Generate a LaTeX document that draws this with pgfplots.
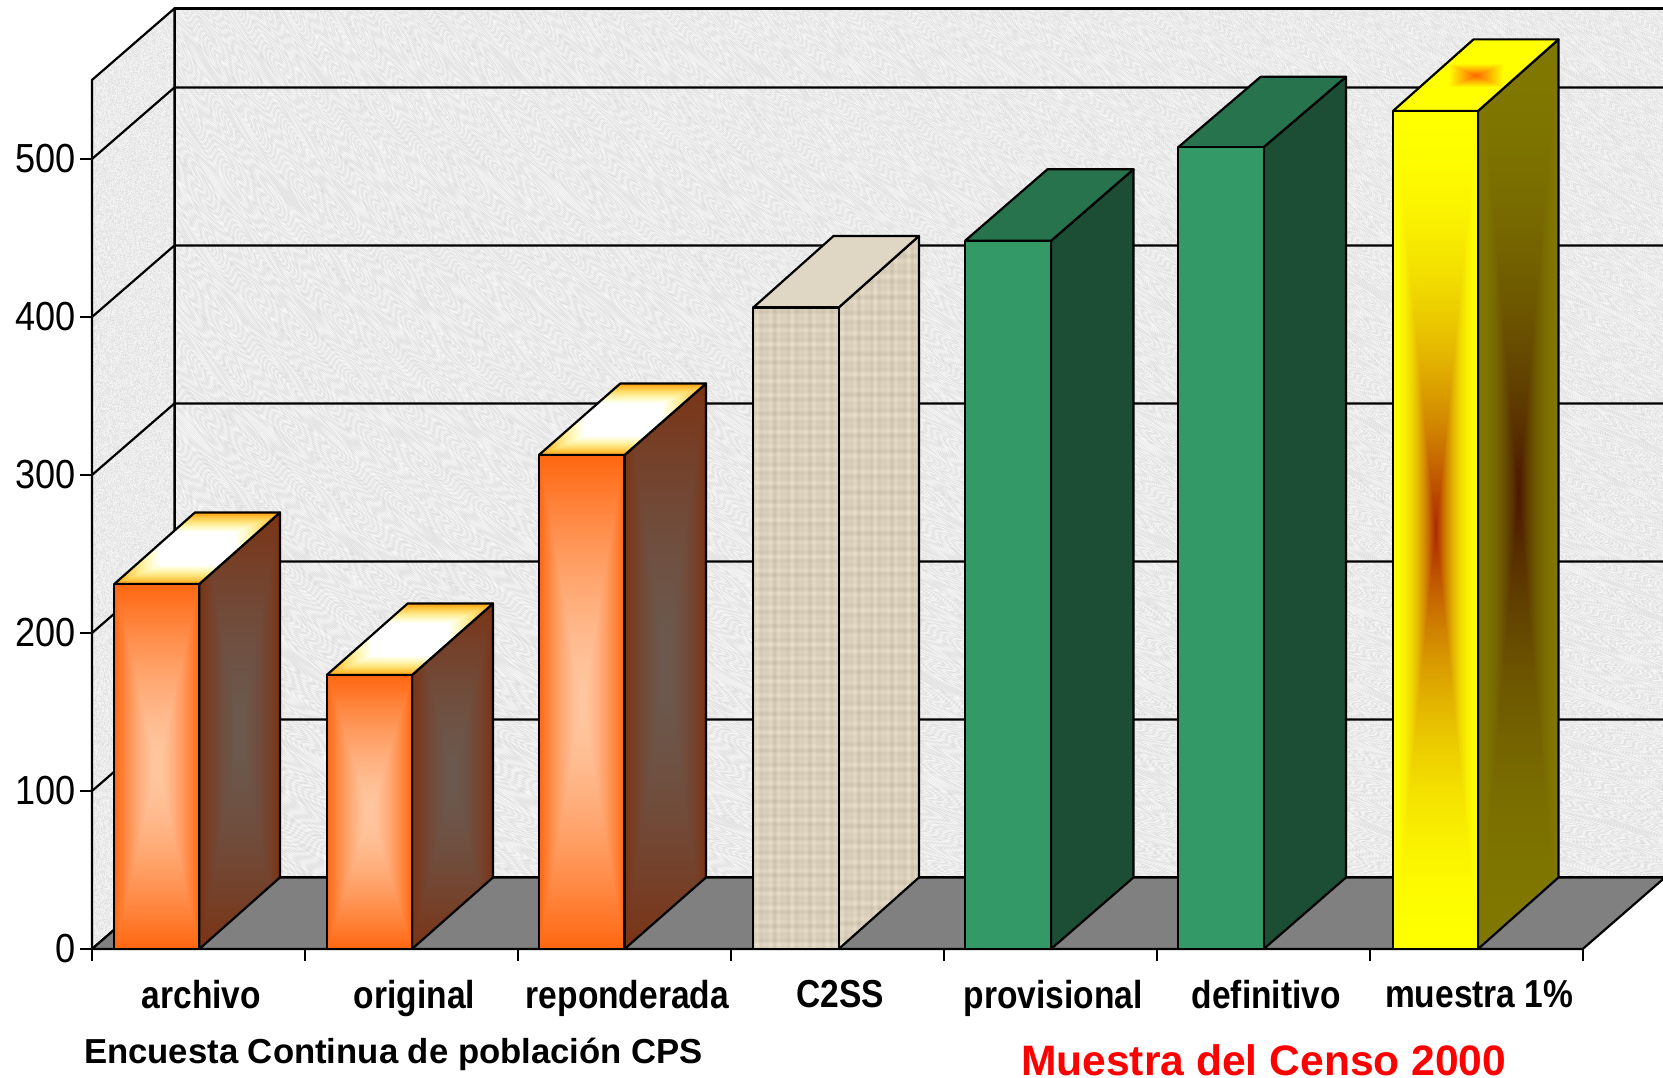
\documentclass[border=0pt]{standalone}
\usepackage{fontspec}
\setmainfont{Liberation Sans}
\newfontfamily\tickf[FakeStretch=0.89]{Liberation Sans}
\newfontfamily\catf[FakeStretch=0.86,Ligatures=NoCommon]{Liberation Sans}
\usepackage{pgfplots}
\pgfplotsset{compat=1.18}
\definecolor{floorgray}{HTML}{808080}
\definecolor{gfront}{HTML}{339966}
\definecolor{gside}{HTML}{1C4E36}
\definecolor{gtop}{HTML}{26734D}
\definecolor{woodtop}{HTML}{DFD6C4}
\pgfdeclarefunctionalshading{stone}{\pgfpointorigin}{\pgfpoint{100bp}{100bp}}{}{
 2 copy mul 3 mul 1 index 37 mul add sin 700 mul 2 index 23 mul sin 400 mul add 2 index 766 mul add sin 3 1 roll
 2 copy mul 5 mul 2 index 29 mul add sin 600 mul 1 index 53 mul sin 300 mul add exch 447 mul add exch pop sin
 mul 0.045 mul 0.92 add dup dup }
\pgfdeclarefunctionalshading{wood}{\pgfpointorigin}{\pgfpoint{100bp}{100bp}}{}{
 dup 500 mul sin exch 131 mul sin mul exch dup 70 mul sin exch 17 mul sin mul add
 0.035 mul dup 0.85 add exch dup 0.81 add exch 0.73 add }
\pgfdeclarefunctionalshading{orfront}{\pgfpointorigin}{\pgfpoint{100bp}{100bp}}{}{
 50 sub abs 25 div exch 50 sub abs 25 div 2 copy lt {exch} if pop
 dup sqrt mul dup -0.38 mul 0.78 add exch -0.57 mul 0.63 add 1 3 1 roll }
\pgfdeclarefunctionalshading{orside}{\pgfpointorigin}{\pgfpoint{100bp}{100bp}}{}{
 50 sub abs 25 div exch 50 sub abs 25 div 2 copy lt {exch} if pop
 dup sqrt mul dup 0.06 mul 0.42 add exch dup -0.15 mul 0.35 add exch -0.23 mul 0.31 add }
\pgfdeclarefunctionalshading{ortop}{\pgfpointorigin}{\pgfpoint{100bp}{100bp}}{}{
 50 sub abs 25 div exch 50 sub abs 25 div 2 copy lt {exch} if pop
 0.45 sub dup 0 lt {pop 0} if 1.818 mul
 dup dup mul -0.38 mul 1 add exch -0.95 mul 1 add 1 3 1 roll }
\pgfdeclarefunctionalshading{yfront}{\pgfpointorigin}{\pgfpoint{100bp}{100bp}}{}{
 50 sub abs 25 div exch 50 sub abs 25 div 2 copy lt {exch} if pop
 1 exch sub dup mul dup -0.32 mul 1 add exch -0.85 mul 1 add 0 }
\pgfdeclarefunctionalshading{yside}{\pgfpointorigin}{\pgfpoint{100bp}{100bp}}{}{
 50 sub abs 25 div exch 50 sub abs 25 div 2 copy lt {exch} if pop
 1 exch sub dup mul dup -0.21 mul 0.5 add exch -0.38 mul 0.47 add 0 }
\pgfdeclarefunctionalshading{ytop}{\pgfpointorigin}{\pgfpoint{100bp}{100bp}}{}{
 50 sub abs 25 div exch 50 sub abs 25 div 2 copy lt {exch} if pop
 3.03 mul dup 1 gt {pop 1} if 0.6 mul 0.4 add 1 exch 0 }
\begin{document}
\begin{tikzpicture}[line join=round]
\useasboundingbox (0,0) rectangle (831.5pt,538.5pt);
\begin{axis}[at={(0,0)},anchor=south west,scale only axis,width=831.5pt,height=538.5pt,
  xmin=0,xmax=1663,ymin=-81.01,ymax=600.63,axis lines=none,no markers,
  cycle list={{black,solid}},
  every axis plot/.append style={line width=1.1pt,draw=black,mark=none,solid}]
% walls and floor
\addplot[shade,shading=stone] coordinates {(174.5,45.3)(1665,45.3)(1665,595.3)(174.5,595.3)(174.5,45.3)};
\addplot[shade,shading=stone] coordinates {(92,0)(174.5,45.3)(174.5,595.3)(92,550)(92,0)};
\addplot[fill=floorgray] coordinates {(92,0)(174.5,45.3)(1665,45.3)(1582.7,0)(92,0)};
% gridlines
\addplot coordinates {(92,100)(174.5,145.3)(1665,145.3)};
\addplot coordinates {(92,200)(174.5,245.3)(1665,245.3)};
\addplot coordinates {(92,300)(174.5,345.3)(1665,345.3)};
\addplot coordinates {(92,400)(174.5,445.3)(1665,445.3)};
\addplot coordinates {(92,500)(174.5,545.3)(1665,545.3)};
% archivo 231
\addplot[shade,shading=orside] coordinates {(199.3,0)(280,45.3)(280,276.3)(199.3,231)(199.3,0)};
\addplot[shade,shading=ortop] coordinates {(114.3,231)(199.3,231)(280,276.3)(195,276.3)(114.3,231)};
\addplot[shade,shading=orfront] coordinates {(114.3,0)(199.3,0)(199.3,231)(114.3,231)(114.3,0)};
% original 173.4
\addplot[shade,shading=orside] coordinates {(412,0)(493,45.3)(493,218.7)(412,173.4)(412,0)};
\addplot[shade,shading=ortop] coordinates {(326.7,173.4)(412,173.4)(493,218.7)(407.7,218.7)(326.7,173.4)};
\addplot[shade,shading=orfront] coordinates {(326.7,0)(412,0)(412,173.4)(326.7,173.4)(326.7,0)};
% reponderada 312.6
\addplot[shade,shading=orside] coordinates {(624.5,0)(706,45.3)(706,357.9)(624.5,312.6)(624.5,0)};
\addplot[shade,shading=ortop] coordinates {(538.8,312.6)(624.5,312.6)(706,357.9)(620.3,357.9)(538.8,312.6)};
\addplot[shade,shading=orfront] coordinates {(538.8,0)(624.5,0)(624.5,312.6)(538.8,312.6)(538.8,0)};
% C2SS 406
\addplot[shade,shading=wood] coordinates {(838.7,0)(919,45.3)(919,451.3)(838.7,406)(838.7,0)};
\addplot[fill=woodtop] coordinates {(753.3,406)(838.7,406)(919,451.3)(833.6,451.3)(753.3,406)};
\addplot[shade,shading=wood] coordinates {(753.3,0)(838.7,0)(838.7,406)(753.3,406)(753.3,0)};
% provisional 448.2
\addplot[fill=gside] coordinates {(1051,0)(1133.5,45.3)(1133.5,493.5)(1051,448.2)(1051,0)};
\addplot[fill=gtop] coordinates {(965,448.2)(1051,448.2)(1133.5,493.5)(1047.5,493.5)(965,448.2)};
\addplot[fill=gfront] coordinates {(965,0)(1051,0)(1051,448.2)(965,448.2)(965,0)};
% definitivo 507.5
\addplot[fill=gside] coordinates {(1263.7,0)(1346,45.3)(1346,552)(1263.7,507.5)(1263.7,0)};
\addplot[fill=gtop] coordinates {(1178.3,507.5)(1263.7,507.5)(1346,552)(1260.6,552)(1178.3,507.5)};
\addplot[fill=gfront] coordinates {(1178.3,0)(1263.7,0)(1263.7,507.5)(1178.3,507.5)(1178.3,0)};
% muestra 1% 530.4
\addplot[shade,shading=yside] coordinates {(1478,0)(1558.5,45.3)(1558.5,575.7)(1478,530.4)(1478,0)};
\addplot[shade,shading=ytop] coordinates {(1393,530.4)(1478,530.4)(1558.5,575.7)(1473.5,575.7)(1393,530.4)};
\addplot[shade,shading=yfront] coordinates {(1393,0)(1478,0)(1478,530.4)(1393,530.4)(1393,0)};
\node[font=\bfseries\fontsize{17.35}{20}\selectfont,text=black,inner sep=0pt] at (axis cs:393.5,-66.6) {Encuesta Continua de población CPS};
\node[font=\bfseries\fontsize{21.3}{25}\selectfont,text=red,inner sep=0pt] at (axis cs:1263.7,-70.5) {Muestra del Censo 2000};
\end{axis}
\begin{axis}[at={(46pt,64pt)},anchor=south west,scale only axis,width=745.35pt,height=434.5pt,
  xmin=0,xmax=7,ymin=0,ymax=550,
  axis x line=bottom,axis y line=left,axis line style={-,line width=1.1pt,black},
  xtick={0,1,2,3,4,5,6,7},
  x tick label as interval,
  xticklabels={archivo,original,reponderada,C2SS,provisional,definitivo,muestra 1\%},
  ytick={0,100,200,300,400,500},
  tick align=outside,major tick length=6pt,
  tick style={line width=1.1pt,black},
  /pgf/number format/assume math mode=true,
  yticklabel style={font=\tickf\fontsize{20.3}{24}\selectfont,inner sep=1pt,xshift=-1pt},
  xticklabel style={font=\catf\bfseries\fontsize{19.5}{23}\selectfont,yshift=-6pt,xshift=1.5pt},
  ]
\addplot[draw=none,forget plot] coordinates {(0,0)(7,550)};
\end{axis}
\end{tikzpicture}
\end{document}
